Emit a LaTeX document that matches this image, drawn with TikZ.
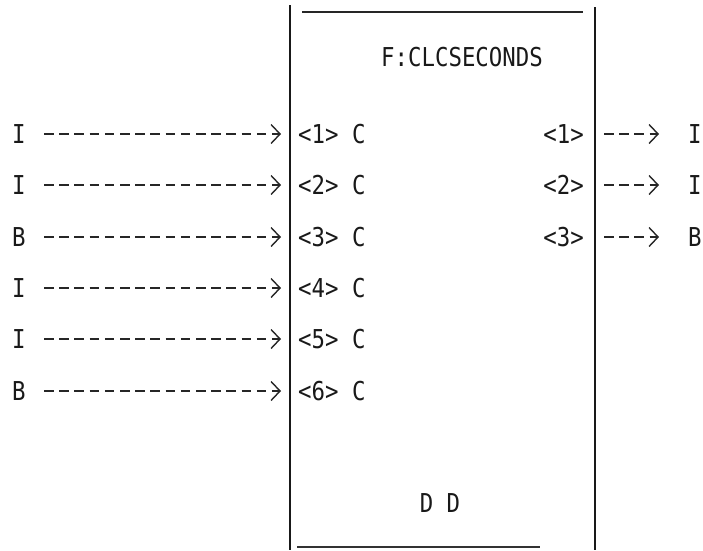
\documentclass[tikz,border=0pt]{standalone}
\usepackage{fontspec}
\newfontfamily\tw[FakeStretch=0.86]{DejaVu Sans Mono}
\usetikzlibrary{arrows.meta}
\tikzset{
  txt/.style={font=\tw\fontsize{26}{30}\selectfont, inner sep=0pt, text=black!90},
  boxline/.style={line width=1.8pt, black!90},
  conn/.style={line width=1.3pt, black!85, dash pattern=on 9.5pt off 5.7pt,
     -{Straight Barb[length=9pt,width=19pt,line width=1.4pt]}}
}
\begin{document}
\begin{tikzpicture}[x=1pt,y=-1pt]
\useasboundingbox (0,0) rectangle (703,550);
% box outline
\coordinate (ltop) at (290,5);
\coordinate (lbot) at (290,550);
\coordinate (rtop) at (595,7);
\coordinate (rbot) at (595,550);
\coordinate (ttl) at (302,12);
\coordinate (ttr) at (583,12);
\coordinate (bbl) at (297,547);
\coordinate (bbr) at (540,547);
\draw[boxline] (ltop) -- (lbot);
\draw[boxline] (rtop) -- (rbot);
\draw[line width=1.4pt, black!85] (ttl) -- (ttr);
\draw[line width=1.6pt, black!80] (bbl) -- (bbr);
% title
\node[txt] (title) at (462,57) {F:CLCSECONDS};
\node[txt] (dd) at (440,503) {D D};
% inputs
\foreach \i/\lab/\y in {1/I/134,2/I/185,3/B/237,4/I/288,5/I/339,6/B/391}{
  \node[txt, anchor=west] (in\i) at (12,\y) {\lab};
  \node[txt, anchor=west] (p\i) at (298,\y) {<\i> C};
  \coordinate (pin\i) at (281,\y);
  \draw[conn] (44,\y) -- (pin\i);
}
% outputs
\foreach \i/\lab/\y in {1/I/134,2/I/185,3/B/237}{
  \node[txt, anchor=east] (q\i) at (584,\y) {<\i>};
  \node[txt, anchor=west] (o\i) at (688,\y) {\lab};
  \coordinate (qout\i) at (604,\y);
  \draw[conn] (qout\i) -- ([xshift=-29pt]o\i.west);
}
\end{tikzpicture}
\end{document}
